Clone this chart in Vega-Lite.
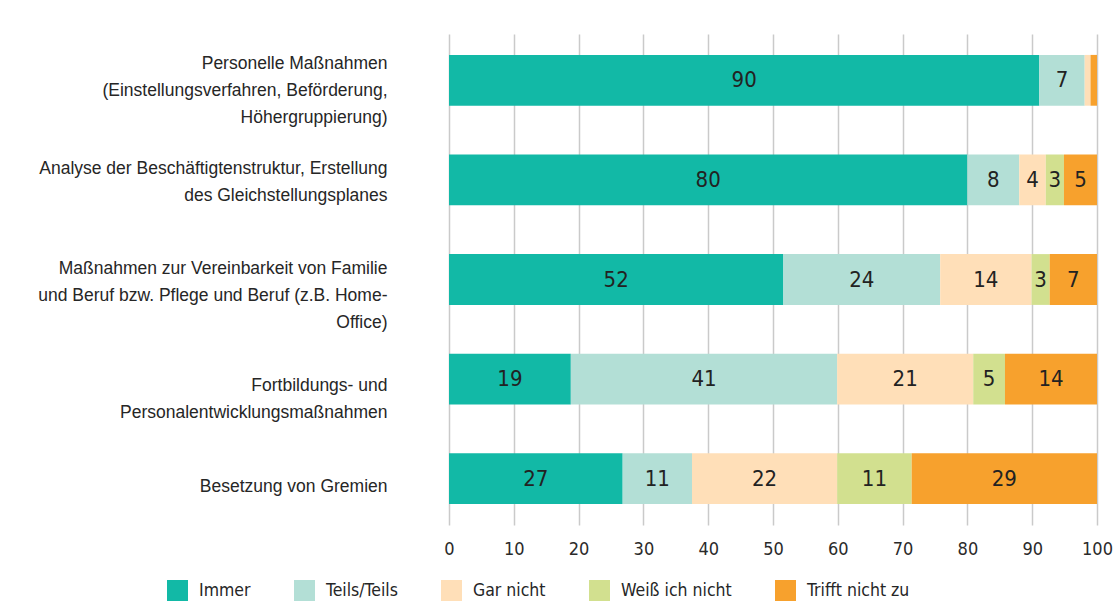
{
  "$schema": "https://vega.github.io/schema/vega-lite/v6.json",
  "width": 648,
  "height": 491,
  "autosize": {"type": "none"},
  "padding": {"left": 449, "top": 34, "right": 23, "bottom": 88},
  "background": "white",
  "config": {
    "view": {"stroke": null},
    "font": "Liberation Sans"
  },
  "data": {
    "values": [
      {"cat": "Personelle Maßnahmen|(Einstellungsverfahren, Beförderung,|Höhergruppierung)", "resp": "Immer", "k": 1, "v": 91.1, "label": "90"},
      {"cat": "Personelle Maßnahmen|(Einstellungsverfahren, Beförderung,|Höhergruppierung)", "resp": "Teils/Teils", "k": 2, "v": 7.0, "label": "7"},
      {"cat": "Personelle Maßnahmen|(Einstellungsverfahren, Beförderung,|Höhergruppierung)", "resp": "Gar nicht", "k": 3, "v": 0.9, "label": ""},
      {"cat": "Personelle Maßnahmen|(Einstellungsverfahren, Beförderung,|Höhergruppierung)", "resp": "Trifft nicht zu", "k": 5, "v": 1.0, "label": ""},
      {"cat": "Analyse der Beschäftigtenstruktur, Erstellung|des Gleichstellungsplanes", "resp": "Immer", "k": 1, "v": 80.0, "label": "80"},
      {"cat": "Analyse der Beschäftigtenstruktur, Erstellung|des Gleichstellungsplanes", "resp": "Teils/Teils", "k": 2, "v": 8.0, "label": "8"},
      {"cat": "Analyse der Beschäftigtenstruktur, Erstellung|des Gleichstellungsplanes", "resp": "Gar nicht", "k": 3, "v": 4.1, "label": "4"},
      {"cat": "Analyse der Beschäftigtenstruktur, Erstellung|des Gleichstellungsplanes", "resp": "Weiß ich nicht", "k": 4, "v": 2.8, "label": "3"},
      {"cat": "Analyse der Beschäftigtenstruktur, Erstellung|des Gleichstellungsplanes", "resp": "Trifft nicht zu", "k": 5, "v": 5.1, "label": "5"},
      {"cat": "Maßnahmen zur Vereinbarkeit von Familie|und Beruf bzw. Pflege und Beruf (z.B. Home-|Office)", "resp": "Immer", "k": 1, "v": 51.6, "label": "52"},
      {"cat": "Maßnahmen zur Vereinbarkeit von Familie|und Beruf bzw. Pflege und Beruf (z.B. Home-|Office)", "resp": "Teils/Teils", "k": 2, "v": 24.2, "label": "24"},
      {"cat": "Maßnahmen zur Vereinbarkeit von Familie|und Beruf bzw. Pflege und Beruf (z.B. Home-|Office)", "resp": "Gar nicht", "k": 3, "v": 14.1, "label": "14"},
      {"cat": "Maßnahmen zur Vereinbarkeit von Familie|und Beruf bzw. Pflege und Beruf (z.B. Home-|Office)", "resp": "Weiß ich nicht", "k": 4, "v": 2.8, "label": "3"},
      {"cat": "Maßnahmen zur Vereinbarkeit von Familie|und Beruf bzw. Pflege und Beruf (z.B. Home-|Office)", "resp": "Trifft nicht zu", "k": 5, "v": 7.3, "label": "7"},
      {"cat": "Fortbildungs- und|Personalentwicklungsmaßnahmen", "resp": "Immer", "k": 1, "v": 18.8, "label": "19"},
      {"cat": "Fortbildungs- und|Personalentwicklungsmaßnahmen", "resp": "Teils/Teils", "k": 2, "v": 41.1, "label": "41"},
      {"cat": "Fortbildungs- und|Personalentwicklungsmaßnahmen", "resp": "Gar nicht", "k": 3, "v": 21.0, "label": "21"},
      {"cat": "Fortbildungs- und|Personalentwicklungsmaßnahmen", "resp": "Weiß ich nicht", "k": 4, "v": 4.9, "label": "5"},
      {"cat": "Fortbildungs- und|Personalentwicklungsmaßnahmen", "resp": "Trifft nicht zu", "k": 5, "v": 14.2, "label": "14"},
      {"cat": "Besetzung von Gremien", "resp": "Immer", "k": 1, "v": 26.8, "label": "27"},
      {"cat": "Besetzung von Gremien", "resp": "Teils/Teils", "k": 2, "v": 10.7, "label": "11"},
      {"cat": "Besetzung von Gremien", "resp": "Gar nicht", "k": 3, "v": 22.4, "label": "22"},
      {"cat": "Besetzung von Gremien", "resp": "Weiß ich nicht", "k": 4, "v": 11.5, "label": "11"},
      {"cat": "Besetzung von Gremien", "resp": "Trifft nicht zu", "k": 5, "v": 28.6, "label": "29"}
    ]
  },
  "encoding": {
    "y": {
      "field": "cat",
      "type": "nominal",
      "sort": null,
      "title": null,
      "scale": {"paddingInner": 0.49, "paddingOuter": 0.21},
      "axis": {
        "domain": false,
        "ticks": false,
        "grid": false,
        "labelExpr": "split(datum.label, '|')",
        "labelFont": "Liberation Sans",
        "labelFontSize": 17.5,
        "labelColor": "#262626",
        "labelLineHeight": 27,
        "labelPadding": 62,
        "labelLimit": 500,
        "labelOffset": {
          "condition": [
            {"test": "indexof(datum.value, 'Personelle') == 0", "value": -16.5},
            {"test": "indexof(datum.value, 'Analyse') == 0", "value": -11},
            {"test": "indexof(datum.value, 'Maßnahmen zur') == 0", "value": -11},
            {"test": "indexof(datum.value, 'Fortbildungs') == 0", "value": 6.5}
          ],
          "value": 8
        }
      }
    },
    "x": {
      "field": "v",
      "type": "quantitative",
      "stack": "zero",
      "title": null,
      "scale": {"domain": [0, 100], "nice": false},
      "axis": {
        "values": [0, 10, 20, 30, 40, 50, 60, 70, 80, 90, 100],
        "domain": false,
        "ticks": false,
        "grid": true,
        "gridColor": "#CACACA",
        "gridWidth": 1.5,
        "labelFlush": false,
        "labelFont": "DejaVu Sans Condensed, Roboto, sans-serif",
        "labelFontSize": 18,
        "labelColor": "#2a2a2a",
        "labelPadding": 15
      }
    },
    "order": {"field": "k", "type": "quantitative"}
  },
  "layer": [
    {
      "mark": {"type": "bar"},
      "encoding": {
        "color": {
          "field": "resp",
          "type": "nominal",
          "title": null,
          "scale": {
            "domain": ["Immer", "Teils/Teils", "Gar nicht", "Weiß ich nicht", "Trifft nicht zu"],
            "range": ["#12B9A6", "#B3DFD6", "#FFDFB8", "#D2E08F", "#F7A12D"]
          },
          "legend": {
            "orient": "none",
            "direction": "horizontal",
            "legendX": -282,
            "legendY": 546,
            "symbolType": "square",
            "symbolSize": 441,
            "symbolStrokeWidth": 0,
            "symbolOpacity": 1,
            "labelFont": "DejaVu Sans Condensed, Roboto, sans-serif",
            "labelFontSize": 17.5,
            "labelColor": "#262626",
            "labelOffset": 11,
            "columnPadding": 43,
            "labelLimit": 300,
            "encode": {
              "symbols": {
                "update": {
                  "fill": {"signal": "datum.value == 'Teils/Teils' ? '#7ECBBE' : scale('color', datum.value)"}
                }
              }
            }
          }
        }
      }
    },
    {
      "mark": {
        "type": "text",
        "font": "DejaVu Sans Condensed, Roboto, sans-serif",
        "fontSize": 22,
        "color": "#222222",
        "baseline": "middle",
        "align": "center"
      },
      "encoding": {
        "x": {"field": "v", "type": "quantitative", "stack": "zero", "bandPosition": 0.5},
        "text": {"field": "label"}
      }
    }
  ]
}
